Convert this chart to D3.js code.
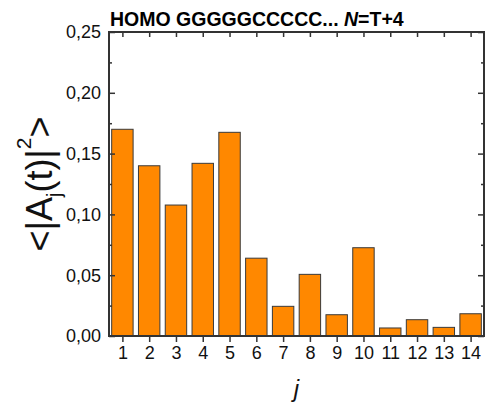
<!DOCTYPE html>
<html>
<head>
<meta charset="utf-8">
<script src="https://cdn.jsdelivr.net/npm/d3@7"></script>
<style>
  body { margin: 0; background: #fff; }
  svg { display: block; }
  text { font-family: "Liberation Sans", Arial, sans-serif; }
</style>
</head>
<body>
<svg id="chart" width="485" height="407"></svg>
<script>
// Site index j and time-averaged occupation probability <|A_j(t)|^2>
const sites = [1, 2, 3, 4, 5, 6, 7, 8, 9, 10, 11, 12, 13, 14];
const probabilities = [0.170, 0.140, 0.1077, 0.142, 0.1675, 0.064, 0.0244, 0.0507, 0.0175, 0.0726, 0.0066, 0.0134, 0.0071, 0.0183];
const yTicks = [0.00, 0.05, 0.10, 0.15, 0.20, 0.25];
const yMinorTicks = [0.025, 0.075, 0.125, 0.175, 0.225];

const svg = d3.select("#chart");
const plotLeft = 109, plotRight = 484, plotTop = 32, plotBottom = 336;
const axisColor = "#333";

const x = d3.scaleLinear().domain([0.5, 14.5]).range([plotLeft, plotRight]);
const y = d3.scaleLinear().domain([0, 0.25]).range([plotBottom, plotTop]);
const barW = (x(1) - x(0)) * 0.8;

// bars
svg.append("g").selectAll("rect")
  .data(sites)
  .join("rect")
  .attr("x", (d) => x(d) - barW / 2)
  .attr("y", (d, i) => y(probabilities[i]))
  .attr("width", barW)
  .attr("height", (d, i) => y(0) - y(probabilities[i]))
  .attr("fill", "#ff8800")
  .attr("stroke", "#3a3a3a")
  .attr("stroke-width", 1);

const fmt = (v) => d3.format(".2f")(v).replace(".", ",");

// bottom axis: ticks outward with labels
const xAxis = svg.append("g").attr("transform", `translate(0,${plotBottom})`)
  .call(d3.axisBottom(x).tickValues(sites).tickSize(6).tickSizeOuter(0).tickPadding(4));
// top axis: ticks inward, no labels
const xTop = svg.append("g").attr("transform", `translate(0,${plotTop})`)
  .call(d3.axisBottom(x).tickValues(sites).tickSize(5).tickSizeOuter(0).tickFormat(""));
// left axis: ticks inward, labels outside
const yAxis = svg.append("g").attr("transform", `translate(${plotLeft},0)`)
  .call(d3.axisRight(y).tickValues(yTicks).tickSize(6).tickSizeOuter(0).tickFormat(""));
const yMinor = svg.append("g").attr("transform", `translate(${plotLeft},0)`)
  .call(d3.axisRight(y).tickValues(yMinorTicks).tickSize(3).tickSizeOuter(0).tickFormat(""));
// right axis: ticks inward
const yRight = svg.append("g").attr("transform", `translate(${plotRight},0)`)
  .call(d3.axisLeft(y).tickValues(yTicks).tickSize(6).tickSizeOuter(0).tickFormat(""));
const yRightMinor = svg.append("g").attr("transform", `translate(${plotRight},0)`)
  .call(d3.axisLeft(y).tickValues(yMinorTicks).tickSize(3).tickSizeOuter(0).tickFormat(""));

[xAxis, xTop, yAxis, yMinor, yRight, yRightMinor].forEach((g) => {
  g.select(".domain").remove();
  g.selectAll("line").attr("stroke", axisColor).attr("stroke-width", 1.5);
});
xAxis.selectAll("text").attr("font-size", 18).attr("fill", "#111")
  .attr("font-family", "'Liberation Sans', Arial, sans-serif");

// y tick labels
svg.append("g").selectAll("text")
  .data(yTicks)
  .join("text")
  .attr("x", plotLeft - 8)
  .attr("y", (d) => y(d))
  .attr("dy", "0.35em")
  .attr("text-anchor", "end")
  .attr("font-size", 18)
  .attr("fill", "#111")
  .text(fmt);

// frame
svg.append("rect")
  .attr("x", plotLeft).attr("y", plotTop)
  .attr("width", plotRight - plotLeft).attr("height", plotBottom - plotTop)
  .attr("fill", "none").attr("stroke", axisColor).attr("stroke-width", 2);

// title
const title = svg.append("text")
  .attr("x", plotLeft + 1).attr("y", 26)
  .attr("font-size", 19.5).attr("font-weight", "bold").attr("fill", "#000");
title.append("tspan").text("HOMO GGGGGCCCCC... ");
title.append("tspan").attr("font-style", "italic").text("N");
title.append("tspan").text("=T+4");

// x axis label
svg.append("text")
  .attr("x", x(7.5)).attr("y", 397)
  .attr("text-anchor", "middle")
  .attr("font-size", 24).attr("font-style", "italic").attr("fill", "#111")
  .text("j");

// y axis label
const yl = svg.append("text")
  .attr("transform", "translate(52,184) rotate(-90)")
  .attr("text-anchor", "middle")
  .attr("font-size", 36).attr("fill", "#111");
yl.append("tspan").text("<|A");
yl.append("tspan").attr("font-size", 20).attr("dy", 9).text("j");
yl.append("tspan").attr("dy", -9).text("(t)|");
yl.append("tspan").attr("font-size", 21).attr("dy", -21).text("2");
yl.append("tspan").attr("dy", 21).text(">");
</script>
</body>
</html>
